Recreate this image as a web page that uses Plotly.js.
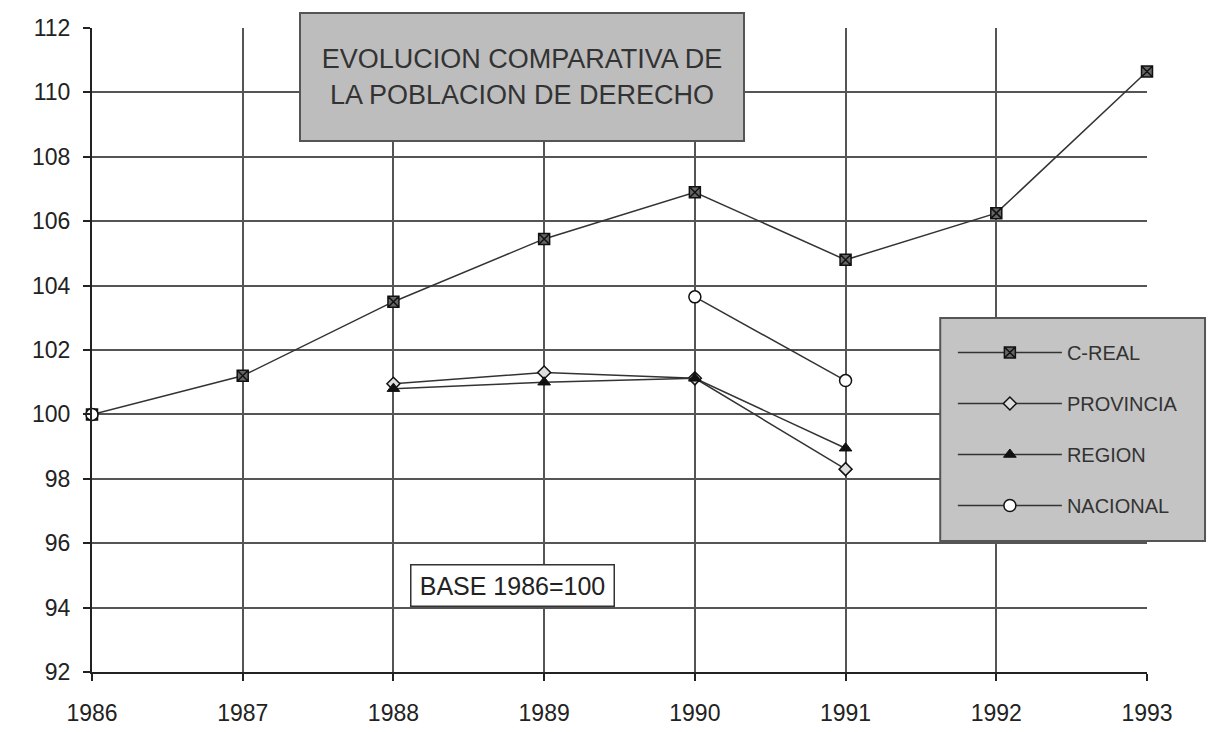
<!DOCTYPE html>
<html><head><meta charset="utf-8">
<script src="https://cdn.plot.ly/plotly-3.0.1.min.js"></script>
<style>html,body{margin:0;padding:0;background:#fff}#chart{width:1220px;height:732px}</style>
</head><body><div id="chart"></div>
<script>
const years = [1986, 1987, 1988, 1989, 1990, 1991, 1992, 1993];
const creal = [100, 101.2, 103.5, 105.45, 106.9, 104.8, 106.25, 110.65];
const provincia = [null, null, 100.95, 101.3, 101.12, 98.3, null, null];
const region = [null, null, 100.8, 101.0, 101.12, 98.95, null, null];
const nacional = [100, null, null, null, 103.65, 101.05, null, null];
const seriesNames = ['C-REAL', 'PROVINCIA', 'REGION', 'NACIONAL'];
const titleText = 'EVOLUCION COMPARATIVA DE<br>LA POBLACION DE DERECHO';
const baseText = 'BASE 1986=100';

const lineStyle = {color: '#333', width: 1.5};
const traces = [
  {x: years, y: creal, name: seriesNames[0], legendgroup: 'a', mode: 'lines+markers', line: lineStyle,
   marker: {symbol: 'square-x', size: 11, color: '#666', line: {color: '#111', width: 1.5}}},
  {x: years, y: provincia, name: seriesNames[1], legendgroup: 'b', mode: 'lines+markers', line: lineStyle,
   marker: {symbol: 'diamond', size: 10, color: '#ddd', line: {color: '#111', width: 1.5}}},
  {x: years, y: region, name: seriesNames[2], legendgroup: 'c', mode: 'lines+markers', line: lineStyle,
   marker: {symbol: 'triangle-up', size: 11, color: '#111', line: {color: '#111', width: 1}}},
  {x: years, y: nacional, name: seriesNames[3], legendgroup: 'd', mode: 'lines+markers', line: lineStyle,
   marker: {symbol: 'circle', size: 12, color: '#fff', line: {color: '#111', width: 1.5}}}
];
traces.forEach(t => { t.connectgaps = false; t.cliponaxis = false; });

const layout = {
  width: 1220, height: 732,
  margin: {l: 92, r: 73, t: 28, b: 60},
  paper_bgcolor: '#fff', plot_bgcolor: '#fff',
  font: {family: 'Arial, Liberation Sans, sans-serif', color: '#222', size: 20},
  xaxis: {range: [1986, 1993], tickvals: years, ticktext: years.map(String),
    showgrid: true, gridcolor: '#555', gridwidth: 2, zeroline: false,
    showline: true, linecolor: '#222', linewidth: 2, ticks: 'outside', ticklen: 7, tickcolor: '#222', tickwidth: 2,
    ticklabelstandoff: 12,
    tickfont: {size: 23, color: '#222'}},
  yaxis: {range: [92, 112], dtick: 2, tick0: 92,
    showgrid: true, gridcolor: '#555', gridwidth: 2, zeroline: false,
    showline: true, linecolor: '#222', linewidth: 2, ticks: 'outside', ticklen: 7, tickcolor: '#222', tickwidth: 2,
    ticklabelstandoff: 8,
    tickfont: {size: 23, color: '#222'}},
  showlegend: true,
  legend: {x: 0.816, y: 0.5264, xanchor: 'left', yanchor: 'top',
    bgcolor: 'rgba(0,0,0,0)', borderwidth: 0,
    font: {size: 20, color: '#333'}, traceorder: 'grouped', tracegroupgap: 22,
    itemwidth: 104},
  shapes: [
    {type: 'rect', xref: 'paper', yref: 'paper', x0: 0.804, x1: 1.055, y0: 0.2034, y1: 0.5497,
     fillcolor: '#c4c4c4', line: {color: '#555', width: 2}, layer: 'above'}
  ],
  annotations: [
    {xref: 'x', yref: 'y', x: 1988.85, y: 110.48, text: titleText, showarrow: false,
     font: {size: 27, color: '#333'}, bgcolor: '#bdbdbd', bordercolor: '#555', borderwidth: 2,
     width: 440, height: 124, align: 'center', valign: 'middle'},
    {xref: 'x', yref: 'y', x: 1988.79, y: 94.7, text: baseText, showarrow: false,
     font: {size: 25, color: '#222'}, bgcolor: '#fff', bordercolor: '#333', borderwidth: 1.5,
     width: 200, height: 38, align: 'center', valign: 'middle'}
  ]
};
Plotly.newPlot('chart', traces, layout, {displayModeBar: false, staticPlot: true});
</script></body></html>
